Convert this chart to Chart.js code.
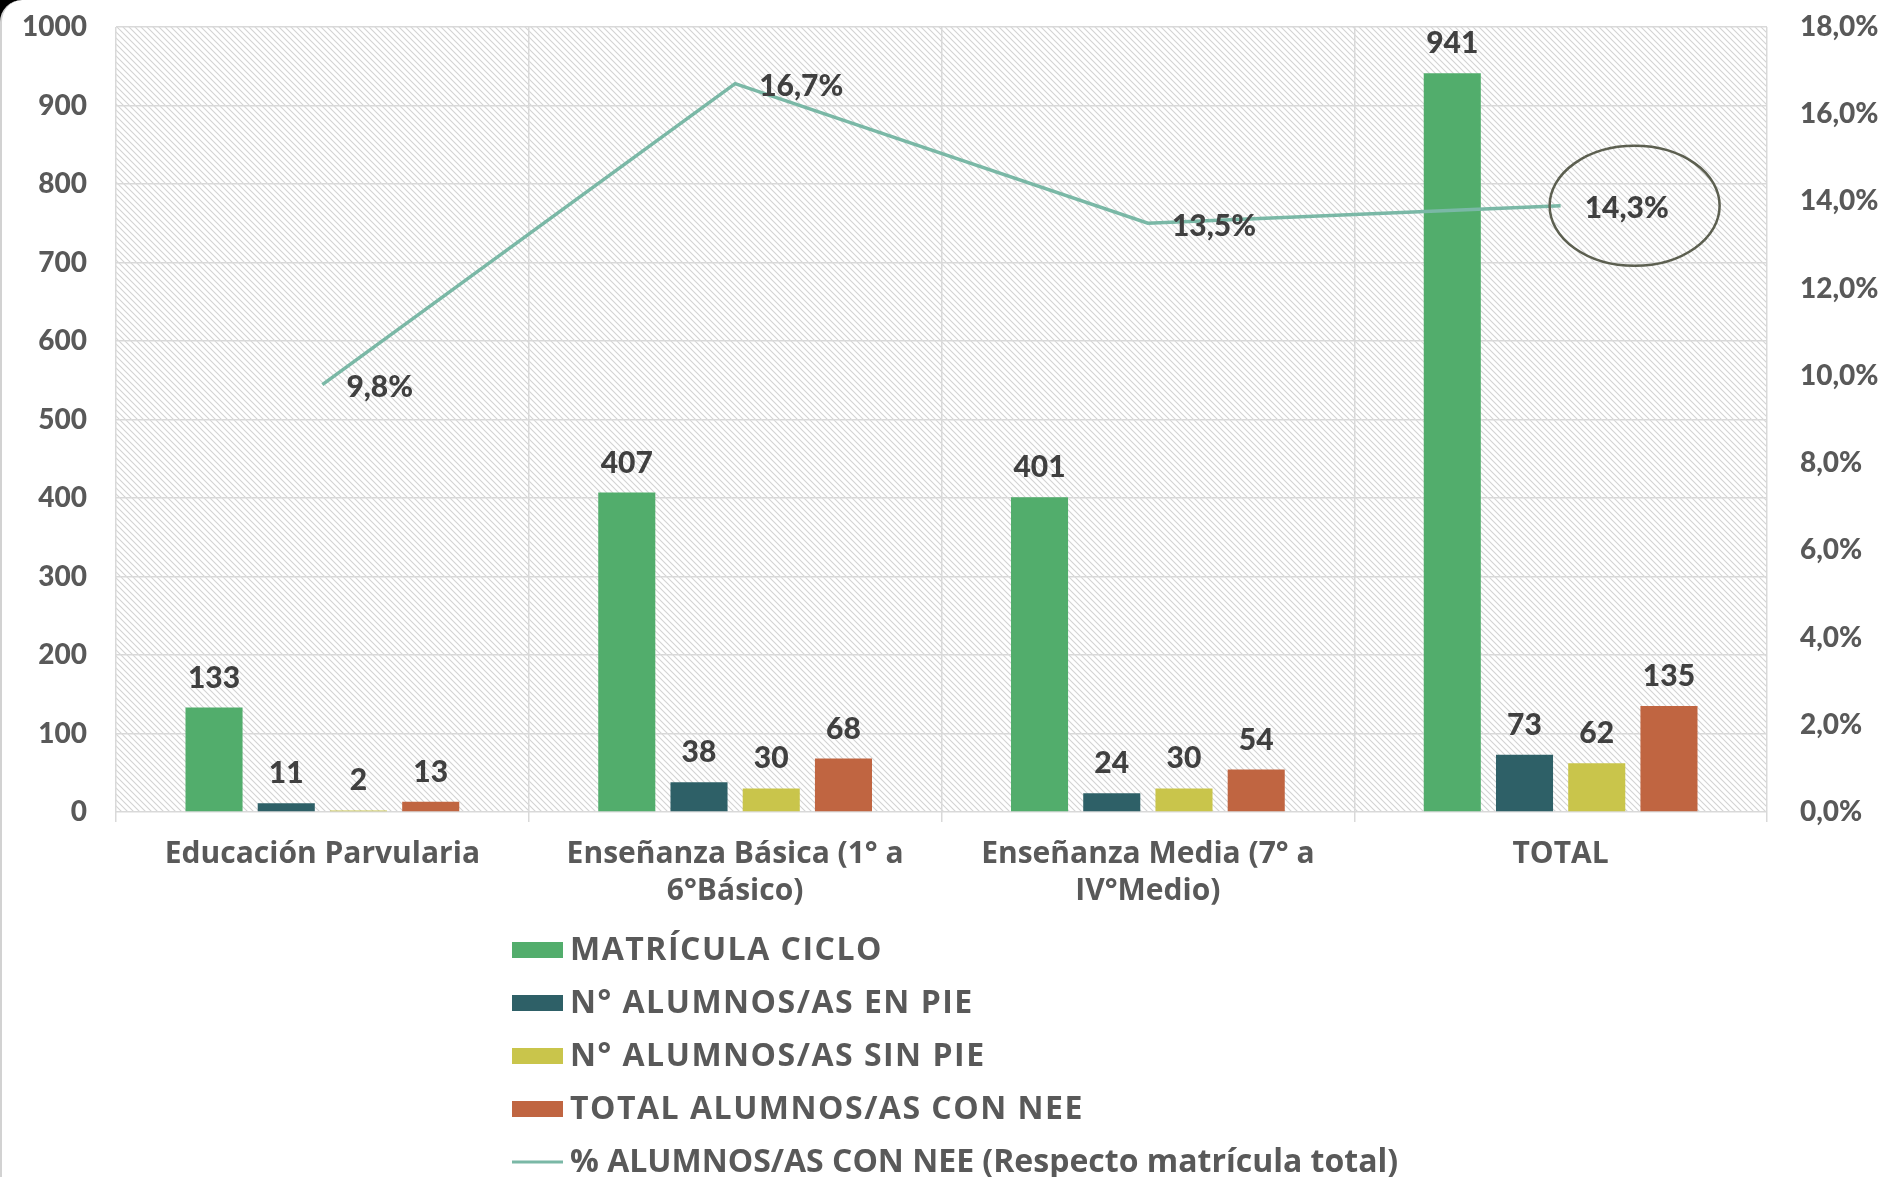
<!DOCTYPE html>
<html>
<head>
<meta charset="utf-8">
<script src="https://cdn.jsdelivr.net/npm/chart.js@4/dist/chart.umd.min.js"></script>
<style>
html,body{margin:0;padding:0;background:#000;width:1886px;height:1177px;overflow:hidden;}
#frame{position:absolute;left:0;top:0;width:1886px;height:1177px;background:#fff;border-top-left-radius:22px;border-left:2px solid #d2d2d2;box-sizing:border-box;overflow:hidden;}
#c{position:absolute;left:0;top:0;}
</style>
</head>
<body>
<div id="frame"></div>
<canvas id="c" width="1886" height="1177"></canvas>
<script>
// ---- data ----
const categories = [
  ['Educación Parvularia'],
  ['Enseñanza Básica (1° a', '6°Básico)'],
  ['Enseñanza Media (7° a', 'IV°Medio)'],
  ['TOTAL']
];
const matriculaCiclo = [133, 407, 401, 941];
const alumnosEnPie = [11, 38, 24, 73];
const alumnosSinPie = [2, 30, 30, 62];
const totalConNee = [13, 68, 54, 135];
const pctConNee = [9.8, 16.7, 13.5, 13.9];
const pctLabels = ['9,8%', '16,7%', '13,5%', '14,3%'];
const seriesNames = [
  'MATRÍCULA CICLO',
  'N° ALUMNOS/AS EN PIE',
  'N° ALUMNOS/AS SIN PIE',
  'TOTAL ALUMNOS/AS CON NEE',
  '% ALUMNOS/AS CON NEE (Respecto matrícula total)'
];

const FONT = '"Open Sans", Lato, sans-serif';
const NUMFONT = 'Lato, "Open Sans", sans-serif';
const TICK_COLOR = '#595959';
const LABEL_COLOR = '#404040';

// hatch pattern
function makePattern(ctx) {
  const s = 6;
  const p = document.createElement('canvas');
  p.width = s; p.height = s;
  const g = p.getContext('2d');
  g.fillStyle = '#ffffff';
  g.fillRect(0, 0, s, s);
  g.strokeStyle = '#d3d3d3';
  g.lineWidth = 1.1;
  g.beginPath();
  g.moveTo(-1, -1); g.lineTo(s + 1, s + 1);
  g.moveTo(-1, s - 1); g.lineTo(1, s + 1);
  g.moveTo(s - 1, -1); g.lineTo(s + 1, 1);
  g.stroke();
  return ctx.createPattern(p, 'repeat');
}

const hatchPlugin = {
  id: 'hatch',
  beforeDraw(chart) {
    const {ctx, chartArea: a} = chart;
    ctx.save();
    ctx.fillStyle = makePattern(ctx);
    ctx.fillRect(a.left, a.top, a.right - a.left, a.bottom - a.top);
    ctx.restore();
  }
};

const labelPlugin = {
  id: 'labels',
  afterDatasetsDraw(chart) {
    const ctx = chart.ctx;
    ctx.save();
    ctx.fillStyle = LABEL_COLOR;
    ctx.font = '900 30px ' + NUMFONT;
    chart.data.datasets.forEach((ds, i) => {
      const meta = chart.getDatasetMeta(i);
      if (ds.type === 'line') {
        ctx.textAlign = 'left';
        ctx.textBaseline = 'middle';
        meta.data.forEach((el, j) => {
          ctx.fillText(pctLabels[j], el.x + 24, el.y + 3);
        });
        const last = meta.data[meta.data.length - 1];
        ctx.strokeStyle = '#5c5f50';
        ctx.lineWidth = 2.5;
        ctx.beginPath();
        ctx.ellipse(last.x + 74, last.y, 85, 60, 0, 0, Math.PI * 2);
        ctx.stroke();
      } else {
        ctx.textAlign = 'center';
        ctx.textBaseline = 'alphabetic';
        meta.data.forEach((el, j) => {
          ctx.fillText(String(ds.data[j]), el.x, el.y - 20);
        });
      }
    });
    ctx.restore();
  }
};

const legendPlugin = {
  id: 'customLegend',
  afterDraw(chart) {
    const ctx = chart.ctx;
    ctx.save();
    ctx.font = 'bold 32px ' + FONT;
    ctx.textAlign = 'left';
    ctx.textBaseline = 'middle';
    const x0 = 512, y0 = 950, step = 53;
    chart.data.datasets.forEach((ds, i) => {
      const y = y0 + i * step;
      if (ds.type === 'line') {
        ctx.strokeStyle = ds.borderColor;
        ctx.lineWidth = 3;
        ctx.beginPath();
        ctx.moveTo(x0, y); ctx.lineTo(x0 + 51, y);
        ctx.stroke();
      } else {
        ctx.fillStyle = ds.backgroundColor;
        ctx.fillRect(x0, y - 8, 51, 16);
      }
      ctx.fillStyle = TICK_COLOR;
      ctx.letterSpacing = (ds.label === ds.label.toUpperCase()) ? '1.5px' : '0px';
      ctx.fillText(ds.label, x0 + 58, y + 1);
    });
    ctx.restore();
  }
};

const noPad = s => { s.paddingTop = 0; s.paddingBottom = 0; };
const barBase = {type: 'bar', yAxisID: 'y', order: 1, borderWidth: 0};

new Chart(document.getElementById('c'), {
  data: {
    labels: categories,
    datasets: [
      Object.assign({}, barBase, {label: seriesNames[0], data: matriculaCiclo, backgroundColor: '#52ad6c'}),
      Object.assign({}, barBase, {label: seriesNames[1], data: alumnosEnPie, backgroundColor: '#2e6067'}),
      Object.assign({}, barBase, {label: seriesNames[2], data: alumnosSinPie, backgroundColor: '#c9c54b'}),
      Object.assign({}, barBase, {label: seriesNames[3], data: totalConNee, backgroundColor: '#c06541'}),
      {type: 'line', label: seriesNames[4], data: pctConNee, yAxisID: 'y1', order: 0,
       borderColor: '#7ab8a6', borderWidth: 3.5, pointRadius: 0, fill: false, tension: 0}
    ]
  },
  options: {
    responsive: false,
    animation: false,
    devicePixelRatio: 1,
    layout: {padding: {top: 27, left: 0, right: 0, bottom: 0}},
    datasets: {bar: {categoryPercentage: 0.70, barPercentage: 0.79}},
    plugins: {legend: {display: false}, tooltip: {enabled: false}},
    scales: {
      x: {
        offset: true,
        grid: {offset: true, color: '#d9d9d9', lineWidth: 1.5, drawTicks: true, tickLength: 10},
        border: {display: false},
        ticks: {color: TICK_COLOR, font: {family: FONT, weight: 'bold', size: 30, lineHeight: 1.23}, padding: 14, maxRotation: 0, autoSkip: false},
        afterFit(s) { s.height = 1177 - 812; }
      },
      y: {
        position: 'left', min: 0, max: 1000,
        grid: {color: '#d9d9d9', lineWidth: 1.5, drawTicks: false},
        border: {display: false},
        ticks: {stepSize: 100, color: TICK_COLOR, font: {family: NUMFONT, weight: '900', size: 28}, padding: 29,
          callback: v => String(v)},
        afterFit(s) { s.width = 116; noPad(s); }
      },
      y1: {
        position: 'right', min: 0, max: 18,
        grid: {display: false, drawTicks: false},
        border: {display: false},
        ticks: {stepSize: 2, color: TICK_COLOR, font: {family: NUMFONT, weight: '900', size: 28}, padding: 33,
          callback: v => v.toFixed(1).replace('.', ',') + '%'},
        afterFit(s) { s.width = 119; noPad(s); }
      }
    }
  },
  plugins: [hatchPlugin, labelPlugin, legendPlugin]
});
</script>
</body>
</html>
